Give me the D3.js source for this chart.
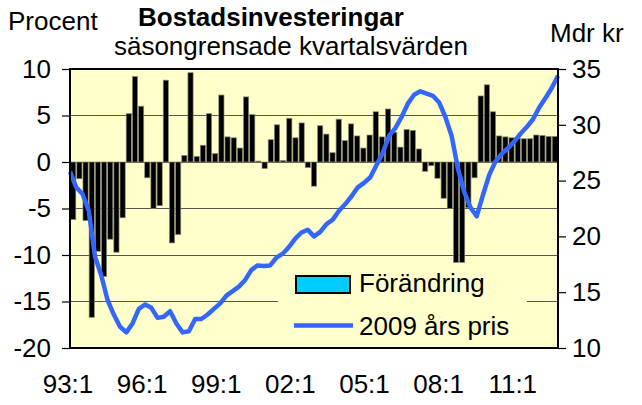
<!DOCTYPE html>
<html><head><meta charset="utf-8">
<script src="https://cdn.jsdelivr.net/npm/d3@7"></script>
<style>
html,body{margin:0;padding:0;background:#fff;}
svg text{font-family:"Liberation Sans",Arial,sans-serif;fill:#000;}
</style></head>
<body><svg id="c" width="642" height="405"></svg>
<script>
// ---- data ----
const startYear = 1993;
const nQuarters = 79;
const categories = [];
for (let i = 0; i < nQuarters; i++) {
  const y = startYear + Math.floor(i / 4);
  categories.push(String(y % 100).padStart(2, "0") + ":" + (i % 4 + 1));
}
const changeValues = [
  -6.2, -1.8, -6.3, -16.7, -9.6, -12.3, -8.3, -9.7, -6.0, 5.2, 9.2, 6.0,
  -1.7, -5.0, -4.7, 8.8, -8.7, -7.8, 0.7, 9.6, 0.6, 1.8, 5.2, 0.9,
  7.2, 2.7, 2.6, 1.5, 7.0, 5.1, 0.1, -0.7, 2.4, 4.0, 0.15, 4.7,
  2.6, 4.2, -0.6, -2.6, 3.9, 3.0, 1.0, 4.6, 2.3, 4.1, 2.8, 1.5,
  2.9, 5.4, 2.7, 5.7, 3.2, 1.6, 3.5, 3.4, 1.4, -1.0, -0.4, -1.75,
  -3.9, -5.0, -10.8, -10.8, -4.9, -1.7, 7.1, 8.3, 5.4, 2.8, 2.7, 2.6,
  2.55, 2.5, 2.5, 2.9, 2.85, 2.75, 2.75
];
const levelValues = [
  25.8, 24.4, 23.8, 22.3, 18.2, 16.5, 14.3, 13.0, 11.9, 11.4, 12.2, 13.5,
  13.9, 13.6, 12.7, 12.8, 13.3, 12.2, 11.4, 11.5, 12.6, 12.6, 13.0, 13.5,
  14.0, 14.7, 15.1, 15.5, 16.1, 17.0, 17.4, 17.35, 17.4, 18.1, 18.45, 19.05,
  19.8, 20.35, 20.6, 20.0, 20.4, 21.1, 21.5, 22.3, 22.9, 23.6, 24.4, 24.8,
  25.3, 26.4, 27.5, 29.0, 29.7, 30.7, 31.9, 32.7, 33.0, 32.8, 32.6, 32.0,
  30.7, 29.0, 26.1, 24.0, 22.6, 21.8, 23.7, 25.5, 26.7, 27.4, 27.9, 28.5,
  29.2, 29.8, 30.5, 31.55, 32.4, 33.3, 34.4
];
const xTickLabels = ["93:1", "96:1", "99:1", "02:1", "05:1", "08:1", "11:1"];
const leftTicks = [10, 5, 0, -5, -10, -15, -20];
const rightTicks = [35, 30, 25, 20, 15, 10];
const seriesNames = ["Förändring", "2009 års pris"];
const titleText = "Bostadsinvesteringar";
const subtitleText = "säsongrensade kvartalsvärden";

// ---- layout ----
const L = 70, R = 558, T = 69, B = 348;
const FS = 26;
const svg = d3.select("#c");

const xBand = d3.scaleBand().domain(categories).range([L, R]).paddingInner(0.16).paddingOuter(0.1);
const xPoint = d3.scalePoint().domain(categories).range([L, R]);
const xLab = d3.scaleBand().domain(categories).range([L, R]);
const yL = d3.scaleLinear().domain([-20, 10]).range([B, T]);
const yR = d3.scaleLinear().domain([10, 35]).range([B, T]);

// plot background
svg.append("rect").attr("x", L).attr("y", T).attr("width", R - L).attr("height", B - T)
  .attr("fill", "#FFFFCC");

// gridlines (left axis)
svg.append("g").selectAll("line").data(leftTicks.filter(d => d > -20 && d < 10)).join("line")
  .attr("x1", L).attr("x2", R).attr("y1", d => yL(d)).attr("y2", d => yL(d))
  .attr("stroke", "#555").attr("stroke-width", 1).attr("shape-rendering", "crispEdges");

// legend background (covers gridlines)
svg.append("rect").attr("x", 278).attr("y", 266).attr("width", 249).attr("height", 80)
  .attr("fill", "#FFFFCC");

// bars
svg.append("g").selectAll("rect").data(changeValues).join("rect")
  .attr("x", (d, i) => xBand(categories[i]))
  .attr("width", xBand.bandwidth())
  .attr("y", d => yL(Math.max(0, d)))
  .attr("height", d => Math.abs(yL(d) - yL(0)))
  .attr("fill", "#000").attr("stroke", "#8a8a70").attr("stroke-width", 0.7);

// line
const line = d3.line().x((d, i) => xPoint(categories[i])).y(d => yR(d));
svg.append("path").datum(levelValues).attr("d", line)
  .attr("fill", "none").attr("stroke", "#3366FF").attr("stroke-width", 4.5)
  .attr("stroke-linejoin", "round");

// plot border
svg.append("rect").attr("x", L).attr("y", T).attr("width", R - L).attr("height", B - T)
  .attr("fill", "none").attr("stroke", "#000").attr("stroke-width", 2);

// left axis
const axL = d3.axisLeft(yL).tickValues(leftTicks).tickSize(8).tickPadding(11)
  .tickFormat(d3.format("d"));
const gL = svg.append("g").attr("transform", `translate(${L},0)`).call(axL);
gL.select(".domain").remove();
gL.selectAll("line").attr("stroke", "#000").attr("stroke-width", 1.2);
gL.selectAll("text").attr("font-size", FS).attr("font-family", "Liberation Sans, Arial, sans-serif")
  .text(d => String(d));

// right axis
const axR = d3.axisRight(yR).tickValues(rightTicks).tickSize(8).tickPadding(6);
const gR = svg.append("g").attr("transform", `translate(${R},0)`).call(axR);
gR.select(".domain").remove();
gR.selectAll("line").attr("stroke", "#000").attr("stroke-width", 1.2);
gR.selectAll("text").attr("font-size", FS).attr("font-family", "Liberation Sans, Arial, sans-serif");

// x labels
svg.append("g").selectAll("text").data(xTickLabels).join("text")
  .attr("x", d => xLab(d) - 2)
  .attr("y", 393)
  .attr("text-anchor", "middle").attr("font-size", FS)
  .text(d => d);

// titles
svg.append("text").attr("x", 271).attr("y", 26).attr("text-anchor", "middle")
  .attr("font-size", FS).attr("font-weight", "bold").text(titleText);
svg.append("text").attr("x", 291).attr("y", 55).attr("text-anchor", "middle")
  .attr("font-size", FS).text(subtitleText);
svg.append("text").attr("x", 8).attr("y", 30).attr("font-size", FS).text("Procent");
svg.append("text").attr("x", 550).attr("y", 42).attr("font-size", FS).text("Mdr kr");

// legend
svg.append("rect").attr("x", 296).attr("y", 276).attr("width", 54).attr("height", 17)
  .attr("fill", "#00CCFF").attr("stroke", "#000").attr("stroke-width", 2);
svg.append("text").attr("x", 359).attr("y", 292).attr("font-size", FS).text(seriesNames[0]);
svg.append("line").attr("x1", 294).attr("x2", 353).attr("y1", 325.5).attr("y2", 325.5)
  .attr("stroke", "#3366FF").attr("stroke-width", 4.5);
svg.append("text").attr("x", 359).attr("y", 335).attr("font-size", FS).text(seriesNames[1]);
</script></body></html>
